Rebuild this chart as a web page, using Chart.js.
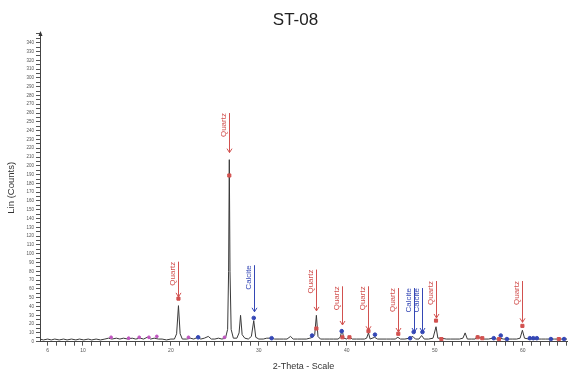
<!DOCTYPE html>
<html>
<head>
<meta charset="utf-8">
<script src="https://cdn.jsdelivr.net/npm/chart.js@4/dist/chart.umd.min.js"></script>
<style>
  html, body { margin: 0; padding: 0; background: #fff; }
  #wrap { width: 572px; height: 370px; }
</style>
</head>
<body>
<div id="wrap"><canvas id="chart-xrd"></canvas></div>
<script>
/* ST-08 diffractogram — measured pattern, phase markers, peak labels */

const twoTheta = [5.12, 5.5, 6.0, 6.4, 6.8, 7.3, 7.8, 8.2, 8.7, 9.2, 9.6, 10.1, 10.6, 11.0, 11.5, 12.0, 12.5, 12.9, 13.3, 13.8,
  14.2, 14.6, 15.1, 15.6, 16.0, 16.5, 16.9, 17.3, 17.7, 18.1, 18.6, 19.0, 19.5, 20.0, 20.4, 20.65, 20.86, 21.05, 21.3, 21.8,
  22.2, 22.6, 23.05, 23.4, 23.8, 24.25, 24.6, 25.0, 25.4, 25.8, 26.2, 26.45, 26.56, 26.64, 26.72, 26.85, 27.1, 27.5, 27.75, 27.92,
  28.1, 28.4, 28.8, 29.15, 29.42, 29.65, 30.0, 30.5, 30.9, 31.4, 31.8, 32.3, 32.8, 33.2, 33.6, 33.9, 34.4, 34.9, 35.4, 35.8,
  36.1, 36.35, 36.54, 36.72, 37.0, 37.5, 38.0, 38.5, 39.0, 39.25, 39.46, 39.65, 40.0, 40.3, 40.6, 41.1, 41.6, 42.0, 42.25, 42.46,
  42.65, 43.15, 43.5, 44.0, 44.5, 45.0, 45.5, 45.8, 46.1, 46.6, 47.1, 47.5, 47.8, 48.2, 48.5, 48.8, 49.3, 49.8, 50.14, 50.35,
  50.8, 51.3, 51.8, 52.3, 52.8, 53.2, 53.45, 53.7, 54.2, 54.6, 54.87, 55.1, 55.3, 55.6, 56.1, 56.6, 57.0, 57.4, 57.8, 58.3,
  58.8, 59.3, 59.7, 59.96, 60.2, 60.7, 61.1, 61.6, 62.1, 62.6, 63.1, 63.6, 64.1, 64.6, 65.03];
const counts = [3, 2, 3, 2, 3, 2, 3, 2, 3, 2, 3, 2, 3, 2, 3, 2, 3, 4, 3, 4,
  3, 4, 3, 4, 3, 4, 3, 5, 3, 4, 3, 3, 2, 3, 3, 9, 41, 9, 3, 3,
  4, 3, 5, 3, 4, 6, 3, 3, 4, 3, 4, 14, 80, 207, 80, 14, 4, 4, 10, 30,
  8, 4, 3, 6, 24, 5, 3, 3, 4, 4, 3, 3, 3, 3, 6, 3, 3, 3, 3, 4,
  5, 8, 30, 6, 3, 3, 3, 3, 3, 5, 14, 4, 3, 6, 3, 3, 3, 3, 4, 10,
  3, 5, 3, 3, 3, 3, 3, 5, 3, 3, 4, 6, 3, 3, 7, 3, 3, 4, 17, 4,
  4, 3, 3, 3, 3, 4, 10, 3, 3, 3, 7, 4, 5, 3, 3, 4, 3, 4, 3, 3,
  3, 3, 4, 13, 4, 3, 3, 3, 3, 3, 3, 3, 3, 3, 3];

// reference line markers per phase
const quartzTheta = [20.86, 26.64, 36.54, 39.5, 40.3, 42.46, 45.85, 50.14, 50.75, 54.87, 55.4, 57.3, 59.96, 64.1];
const quartzCounts = [49, 189, 15, 5, 5, 12, 9, 24, 3, 5, 4, 3, 18, 3];
const calciteTheta = [23.1, 29.42, 31.45, 36.05, 39.42, 43.2, 47.2, 47.6, 48.6, 56.7, 57.5, 58.2, 60.8, 61.2, 61.6, 63.2, 64.7];
const calciteCounts = [5, 27, 4, 7, 12, 8, 4, 11, 11, 4, 7, 3, 4, 4, 4, 3, 3];
const otherTheta = [13.2, 15.2, 16.4, 17.5, 18.4, 22.0, 26.1];
const otherCounts = [5, 4, 5, 5, 6, 5, 5];

// labelled peaks: name, position, label top and arrow tip (counts)
const peakNames = ["Quartz", "Quartz", "Calcite", "Quartz", "Quartz", "Quartz", "Quartz", "Calcite", "Calcite", "Quartz", "Quartz"];
const peakTheta = [20.86, 26.64, 29.42, 36.54, 39.46, 42.46, 45.85, 47.6, 48.6, 50.14, 59.96];
const peakLabelTop = [91, 260, 87, 82, 63, 63, 61, 61, 61, 69, 69];
const peakArrowTip = [51, 215, 34, 35, 19, 13, 11, 11, 11, 27, 22];

const xTickLabels = [6, 10, 20, 30, 40, 50, 60];

const QUARTZ = "#d2514f";
const CALCITE = "#3447b5";
const FONT = "'Liberation Sans', Arial, sans-serif";

const peakLabels = {
  id: "peakLabels",
  afterDatasetsDraw(chart) {
    const { ctx, scales: { x, y } } = chart;
    ctx.save();
    peakNames.forEach((name, i) => {
      const px = Math.round(x.getPixelForValue(peakTheta[i])) + 0.5;
      const top = y.getPixelForValue(peakLabelTop[i]);
      const tip = y.getPixelForValue(peakArrowTip[i]);
      const col = name === "Quartz" ? QUARTZ : CALCITE;
      ctx.strokeStyle = col;
      ctx.fillStyle = col;
      ctx.lineWidth = 1;
      ctx.beginPath();
      ctx.moveTo(px, top);
      ctx.lineTo(px, tip);
      ctx.moveTo(px - 2.5, tip - 4);
      ctx.lineTo(px, tip);
      ctx.lineTo(px + 2.5, tip - 4);
      ctx.stroke();
      ctx.save();
      ctx.translate(px - 1.5, top);
      ctx.rotate(-Math.PI / 2);
      ctx.font = "8px " + FONT;
      ctx.textAlign = "right";
      ctx.textBaseline = "bottom";
      ctx.fillText(name, 0, 0);
      ctx.restore();
    });
    // arrowhead on top of the count axis
    const ax = x.left + 0.5, ay = y.top;
    ctx.fillStyle = "#333";
    ctx.beginPath();
    ctx.moveTo(ax, ay - 3);
    ctx.lineTo(ax - 2, ay + 2);
    ctx.lineTo(ax + 2, ay + 2);
    ctx.closePath();
    ctx.fill();
    // sample name, sits a little right of the canvas centre like the original export
    ctx.fillStyle = "#222";
    ctx.font = "17px " + FONT;
    ctx.textAlign = "center";
    ctx.textBaseline = "middle";
    ctx.fillText("ST-08", (x.left + x.right) / 2 - 8, 20);
    ctx.restore();
  },
};

const pts = (xs, ys) => xs.map((v, i) => ({ x: v, y: ys[i] }));

new Chart(document.getElementById("chart-xrd"), {
  type: "scatter",
  data: {
    datasets: [
      { label: "ST-08", data: pts(twoTheta, counts), showLine: true, borderColor: "#3a3a3a", borderWidth: 1, pointRadius: 0, tension: 0, order: 2 },
      { label: "Quartz", data: pts(quartzTheta, quartzCounts), pointStyle: "rect", pointRadius: 2.2, backgroundColor: QUARTZ, borderColor: QUARTZ, order: 1 },
      { label: "Calcite", data: pts(calciteTheta, calciteCounts), pointStyle: "circle", pointRadius: 1.8, backgroundColor: CALCITE, borderColor: CALCITE, order: 1 },
      { label: "Other", data: pts(otherTheta, otherCounts), pointStyle: "circle", pointRadius: 1.4, backgroundColor: "#c055c0", borderColor: "#c055c0", order: 1 },
    ],
  },
  options: {
    responsive: true, maintainAspectRatio: false, animation: false,
    layout: { padding: { top: 33.9, left: 0, right: 0, bottom: 0 } },
    plugins: {
      legend: { display: false }, tooltip: { enabled: false }, title: { display: false },
    },
    scales: {
      x: {
        type: "linear", min: 5.12, max: 65.03,
        afterFit: (s) => { s.height = 28.3; },
        afterBuildTicks: (s) => { const t = []; for (let v = 6; v <= 65; v++) t.push({ value: v }); s.ticks = t; },
        border: { display: true, color: "#444" },
        grid: { drawOnChartArea: false, drawTicks: true, tickLength: 4, color: "#555" },
        ticks: { autoSkip: false, maxRotation: 0, padding: 2, color: "#555", font: { family: FONT, size: 5 },
          callback: (v) => (xTickLabels.includes(v) ? String(v) : "") },
        title: { display: true, text: "2-Theta - Scale", color: "#333", font: { family: FONT, size: 9 }, padding: { top: 0, bottom: -2 } },
      },
      y: {
        min: 0, max: 350,
        afterFit: (s) => { s.width = 40; },
        border: { display: true, color: "#444" },
        grid: { drawOnChartArea: false, drawTicks: true, tickLength: 4, color: "#555" },
        ticks: { autoSkip: false, stepSize: 5, padding: 2, color: "#555", font: { family: FONT, size: 4.5 },
          callback: (v) => (v % 10 === 0 && v < 350 ? String(v) : "") },
        title: { display: true, text: "Lin (Counts)", color: "#333", font: { family: FONT, size: 9.5 }, padding: { top: 6, bottom: 0 } },
      },
    },
  },
  plugins: [peakLabels],
});
</script>
</body>
</html>
